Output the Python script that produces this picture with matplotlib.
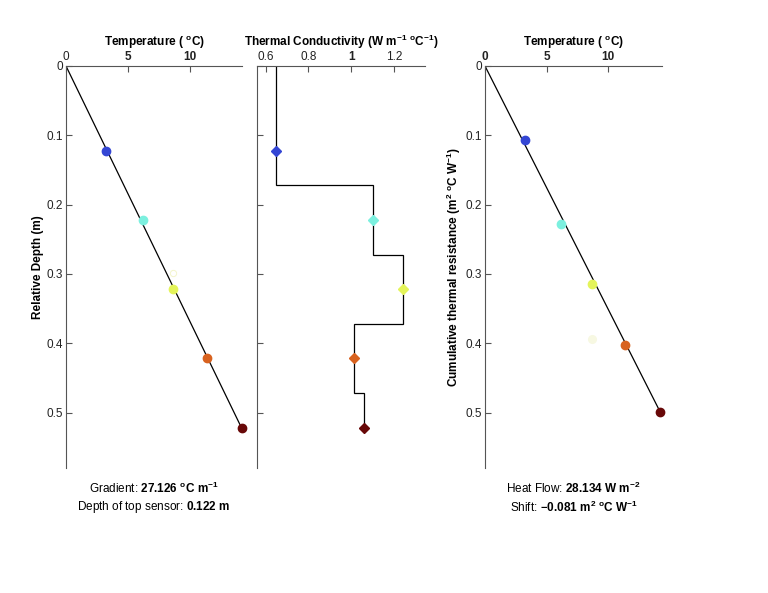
import matplotlib
matplotlib.use("Agg")
import matplotlib.pyplot as plt

plt.rcParams['font.family'] = ['Liberation Sans', 'DejaVu Sans']
plt.rcParams['mathtext.fontset'] = 'custom'
plt.rcParams['mathtext.rm'] = 'Liberation Sans'
plt.rcParams['mathtext.bf'] = 'Liberation Sans:bold'
plt.rcParams['mathtext.it'] = 'Liberation Sans:italic'
plt.rcParams['font.size'] = 8

# ---- data ----
depth = [0.122, 0.222, 0.322, 0.422, 0.522]
temperature = [3.24, 6.19, 8.65, 11.35, 14.16]
conductivity = [0.651, 1.10, 1.24, 1.012, 1.06]
layer_edges = [0.0, 0.172, 0.272, 0.372, 0.472, 0.522]
resistance = [0.107, 0.228, 0.314, 0.403, 0.499]
sensor_colors = ['#3446d4', '#7cf0df', '#e4f45a', '#d8621f', '#680808']
faint_temp = 8.65
faint_depth = 0.298
faint_resistance = 0.394
grad_fit_depth = [0.0, 0.522]
grad_fit_temp = [0.0, 14.16]
flow_fit_res = [0.0, 0.499]
flow_fit_temp = [0.0, 14.2]
depth_ticks = [0, 0.1, 0.2, 0.3, 0.4, 0.5]
depth_ticklabels = ['0', '0.1', '0.2', '0.3', '0.4', '0.5']
temp_ticks = [0, 5, 10]
cond_ticks = [0.6, 0.8, 1.0, 1.2]
cond_ticklabels = ['0.6', '0.8', '1', '1.2']

W, H = 768, 593
fig = plt.figure(figsize=(W / 100, H / 100), dpi=100)

def fx(px):
    return px / W

def fy(py):
    return 1 - py / H

top, bottom = 66, 468
ax1 = fig.add_axes([fx(66), fy(bottom), fx(242) - fx(66), fy(top) - fy(bottom)])
ax2 = fig.add_axes([fx(257), fy(bottom), fx(425) - fx(257), fy(top) - fy(bottom)])
ax3 = fig.add_axes([fx(485), fy(bottom), fx(662) - fx(485), fy(top) - fy(bottom)])

spine_col = '#555555'
for ax in (ax1, ax2, ax3):
    ax.set_ylim(0.58, 0)
    ax.spines['right'].set_visible(False)
    ax.spines['bottom'].set_visible(False)
    ax.spines['left'].set_color(spine_col)
    ax.spines['top'].set_color(spine_col)
    ax.spines['left'].set_linewidth(0.8)
    ax.spines['top'].set_linewidth(0.8)
    ax.xaxis.set_ticks_position('top')
    ax.xaxis.set_label_position('top')
    ax.tick_params(direction='in', length=4, width=0.8, color=spine_col,
                   labelsize=8.5, pad=2, labelcolor='#222222')
    ax.set_yticks(depth_ticks)

# Panel 1
ax1.set_xlim(0, 14.2)
ax1.plot(grad_fit_temp, grad_fit_depth, color='k', lw=0.9, zorder=2)
ax1.plot([faint_temp], [faint_depth], 'o', mfc='none', mec='#f4f5cc', ms=4.5, mew=0.7, zorder=3)
for t, d, c in zip(temperature, depth, sensor_colors):
    ax1.plot([t], [d], 'o', color=c, ms=6, zorder=3, clip_on=False)
ax1.set_xticks(temp_ticks)
ax1.set_xticklabels(['0', '5', '10'])
for lbl, w in zip(ax1.get_xticklabels(), ['normal', 'bold', 'bold']):
    lbl.set_fontweight(w)
ax1.set_yticklabels(depth_ticklabels)
ax1.set_xlabel(r"Temperature ( $\mathbf{^{o}}$C)", fontweight='bold', fontsize=8.5, labelpad=4)
ax1.set_ylabel("Relative Depth (m)", fontweight='bold', fontsize=8.5, labelpad=2)

# Panel 2
ax2.set_xlim(0.56, 1.345)
ax2.stairs(conductivity, layer_edges, orientation='horizontal', baseline=None,
           color='k', lw=0.9, zorder=2)
for k, d, c in zip(conductivity, depth, sensor_colors):
    ax2.plot([k], [d], 'D', color=c, ms=4.8, zorder=3)
ax2.set_xticks(cond_ticks)
ax2.set_xticklabels(cond_ticklabels)
for lbl, w in zip(ax2.get_xticklabels(), ['normal', 'normal', 'bold', 'normal']):
    lbl.set_fontweight(w)
ax2.set_yticklabels([])
ax2.set_xlabel(r"Thermal Conductivity (W m$\mathbf{^{-1}}$ $\mathbf{^{o}}$C$\mathbf{^{-1}}$)",
               fontweight='bold', fontsize=8.5, labelpad=4)

# Panel 3
ax3.set_xlim(0, 14.35)
ax3.plot(flow_fit_temp, flow_fit_res, color='k', lw=0.9, zorder=2)
ax3.plot([faint_temp], [faint_resistance], 'o', color='#f7f8e2', ms=5.5, zorder=1)
for t, r, c in zip(temperature, resistance, sensor_colors):
    ax3.plot([t], [r], 'o', color=c, ms=6, zorder=3, clip_on=False)
ax3.set_xticks(temp_ticks)
ax3.set_xticklabels(['0', '5', '10'])
for lbl in ax3.get_xticklabels():
    lbl.set_fontweight('bold')
ax3.set_yticklabels(depth_ticklabels)
ax3.set_xlabel(r"Temperature ( $\mathbf{^{o}}$C)", fontweight='bold', fontsize=8.5, labelpad=4)
ax3.set_ylabel(r"Cumulative thermal resistance (m$\mathbf{^{2}}$ $\mathbf{^{o}}$C W$\mathbf{^{-1}}$)",
               fontweight='bold', fontsize=8.5, labelpad=2)

# Bottom annotations
c1 = fx((66 + 242) / 2)
c3 = fx((485 + 662) / 2)
fig.text(c1, fy(488), r"Gradient: $\mathbf{27.126\ ^{o}C\ m^{-1}}$", ha='center', va='center', fontsize=8.5)
fig.text(c1, fy(507), r"Depth of top sensor: $\mathbf{0.122\ m}$", ha='center', va='center', fontsize=8.5)
fig.text(c3, fy(488), r"Heat Flow: $\mathbf{28.134\ W\ m^{-2}}$", ha='center', va='center', fontsize=8.5)
fig.text(c3, fy(507), r"Shift: $\mathbf{-0.081\ m^{2}\ ^{o}C\ W^{-1}}$", ha='center', va='center', fontsize=8.5)

fig.savefig("out.png", dpi=100)
